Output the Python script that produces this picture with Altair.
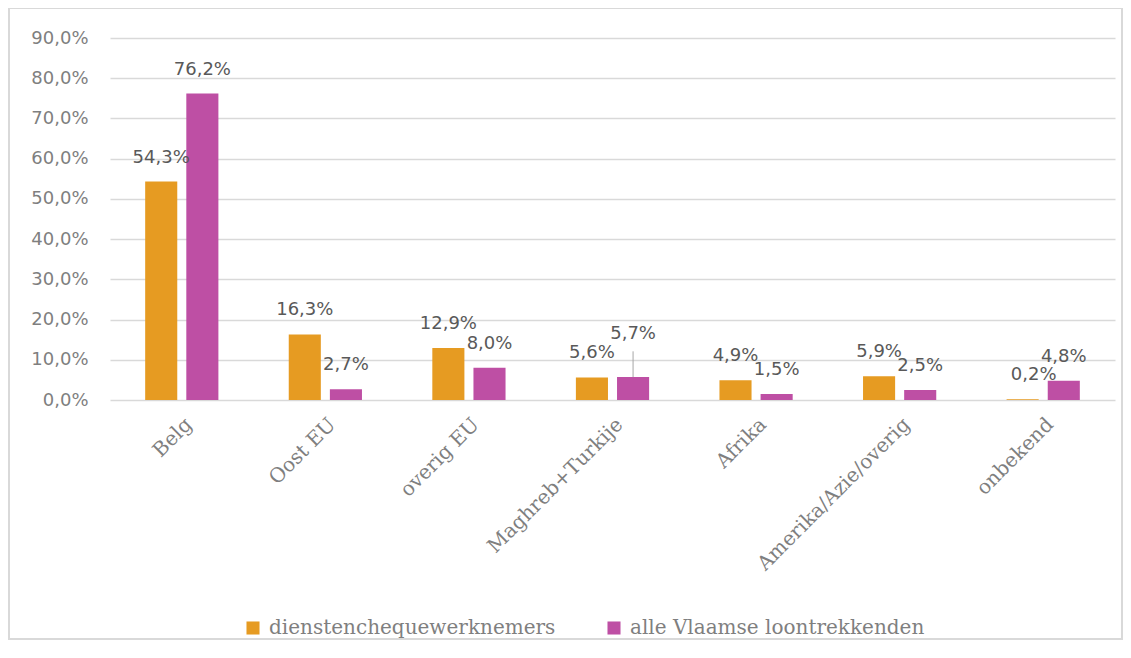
import altair as alt
import pandas as pd

categories = ["Belg", "Oost EU", "overig EU", "Maghreb+Turkije", "Afrika",
              "Amerika/Azie/overig", "onbekend"]
series = ["dienstenchequewerknemers", "alle Vlaamse loontrekkenden"]
dienstencheque = [54.3, 16.3, 12.9, 5.6, 4.9, 5.9, 0.2]
vlaamse = [76.2, 2.7, 8.0, 5.7, 1.5, 2.5, 4.8]
y_ticks = [0, 10, 20, 30, 40, 50, 60, 70, 80, 90]
colors = ["#E69B22", "#BE4FA4"]

rows = []
for c, a, b in zip(categories, dienstencheque, vlaamse):
    rows.append({"cat": c, "series": series[0], "value": a})
    rows.append({"cat": c, "series": series[1], "value": b})
df = pd.DataFrame(rows)

label_expr = "replace(format(datum.value, '.1f'), '.', ',') + '%'"
raised = f"datum.cat == '{categories[3]}' && datum.series == '{series[1]}'"
shifted = f"datum.cat == '{categories[6]}' && datum.series == '{series[0]}'"

x = alt.X("cat:N", sort=categories,
          scale=alt.Scale(paddingInner=0.49, paddingOuter=0.245),
          axis=alt.Axis(title=None, labelAngle=-45, labelFont="DejaVu Serif",
                        labelFontSize=20, labelColor="#7F7F7F", ticks=False,
                        domain=False, labelPadding=14, labelLimit=400))
xo = alt.XOffset("series:N", sort=series,
                 scale=alt.Scale(paddingInner=0.22, paddingOuter=0))
y = alt.Y("value:Q", scale=alt.Scale(domain=[0, 90]),
          axis=alt.Axis(values=y_ticks, title=None,
                        labelExpr="replace(format(datum.value, '.1f'), '.', ',') + '%'",
                        domain=False, ticks=False, gridColor="#D9D9D9",
                        gridWidth=1.5, labelFont="DejaVu Sans", labelFontSize=18,
                        labelColor="#7F7F7F", labelPadding=22))

base = alt.Chart(df).encode(x=x, xOffset=xo, y=y)

bars = base.mark_bar().encode(
    color=alt.Color("series:N", sort=series,
                    scale=alt.Scale(domain=series, range=colors),
                    legend=alt.Legend(title=None, orient="none",
                                      legendX=133, legendY=580,
                                      direction="horizontal",
                                      symbolType="square", symbolSize=170,
                                      symbolStrokeWidth=0,
                                      labelFont="DejaVu Serif",
                                      labelFontSize=20, labelColor="#7F7F7F",
                                      labelLimit=400, labelOffset=6,
                                      columnPadding=48))
)

txt_props = dict(font="DejaVu Sans", fontSize=18, color="#595959",
                 baseline="middle", align="center")

labels_main = base.transform_filter(f"!({raised}) && !({shifted})").transform_calculate(
    lbl=label_expr).mark_text(dy=-24, **txt_props).encode(text="lbl:N")
labels_raised = base.transform_filter(raised).transform_calculate(
    lbl=label_expr).mark_text(dy=-43, **txt_props).encode(text="lbl:N")
labels_shifted = base.transform_filter(shifted).transform_calculate(
    lbl=label_expr).mark_text(dy=-24, dx=11, **txt_props).encode(text="lbl:N")
leader = base.transform_filter(raised).transform_calculate(
    top="datum.value + 6.4").mark_rule(color="#A6A6A6", strokeWidth=1).encode(
    y2="top:Q")

frame = alt.Chart(pd.DataFrame({"k": [0]})).mark_rect(
    fill=None, stroke="#D9D9D9", strokeWidth=2, clip=False).encode(
    x=alt.value(-101), x2=alt.value(1012), y=alt.value(-30), y2=alt.value(601))

chart = alt.layer(frame, bars, leader, labels_main, labels_raised, labels_shifted).properties(
    width=1005, height=362,
    autosize=alt.AutoSizeParams(type="none"),
    padding={"left": 102, "top": 30, "right": 8, "bottom": 240},
).configure_view(stroke=None)

chart.save("out.html", embed_options={"renderer": "svg", "actions": False})
